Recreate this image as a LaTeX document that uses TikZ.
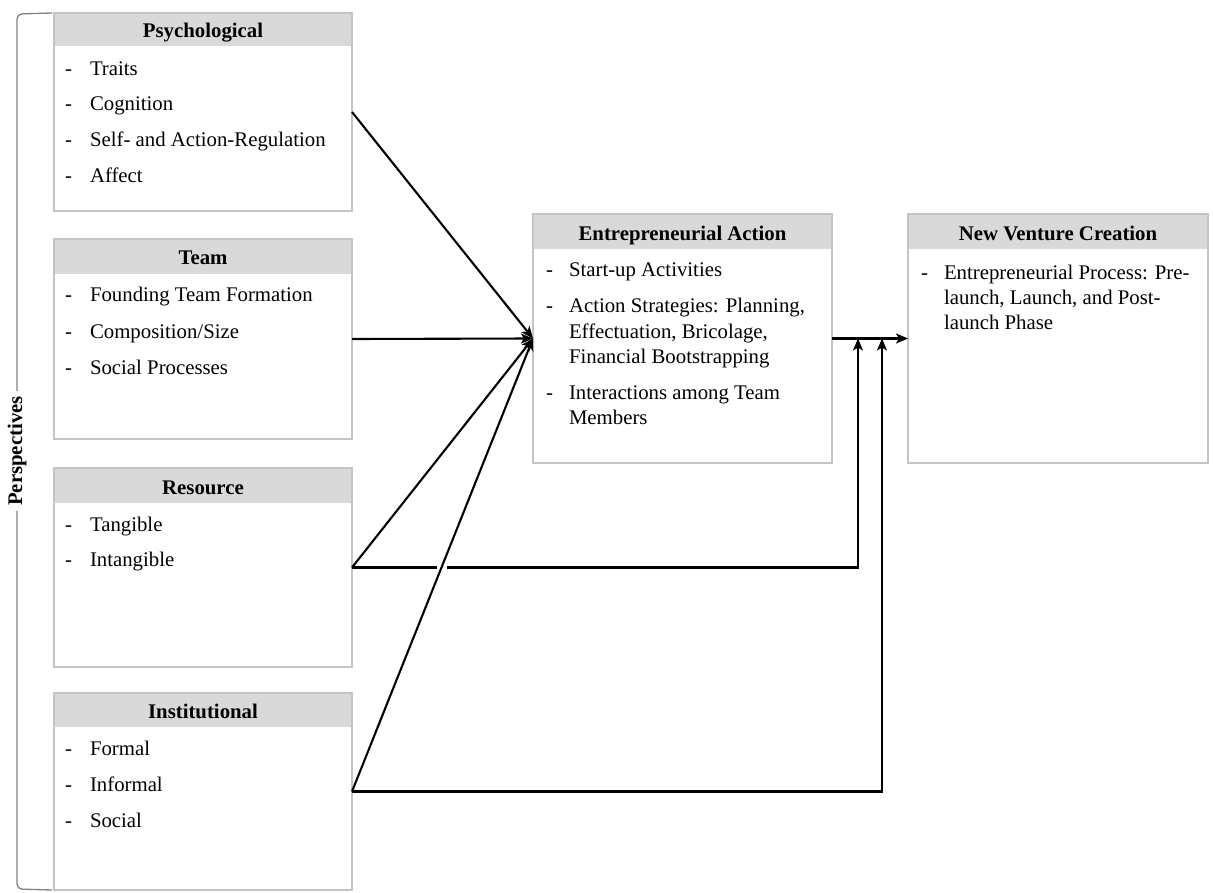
\documentclass[tikz,border=0pt]{standalone}
\usepackage{fontspec}
\setmainfont{Liberation Serif}
\usetikzlibrary{arrows.meta,intersections,calc}
\definecolor{boxline}{HTML}{C4C4C4}
\definecolor{headfill}{HTML}{D9D9D9}
\definecolor{brk}{HTML}{808080}
\newcommand\txtsize{\fontsize{20.8}{25}\selectfont}
\begin{document}
\begin{tikzpicture}[x=1pt,y=-1pt,
  every node/.style={font=\txtsize, inner sep=0pt, outer sep=0pt},
  box/.style={draw=boxline, line width=1.3pt, fill=white, anchor=north west, minimum width=#1},
  boxh/.style={minimum height=#1},
  head/.style={fill=headfill, anchor=north west, minimum width=#1},
  headh/.style={minimum height=#1},
  title/.style={anchor=base, font=\txtsize\bfseries},
  lbl/.style={anchor=base west},
  conn/.style={line width=2.1pt, -{Stealth[length=12pt,width=10pt,inset=3pt]}},
  frame/.style={draw=boxline, line width=1.3pt},
  brace/.style={draw=brk, line width=1.3pt, rounded corners=5pt}
]
\useasboundingbox (0,0) rectangle (1213,893);

% ---------- boxes ----------
\node[box=298pt, boxh=198pt] (psy) at (54,13) {};
\node[head=298pt, headh=33pt] (psyh) at (54,13) {};
\draw[frame] (psy.north west) rectangle (psy.south east);
\node[title] (psyt) at (203,38) {Psychological};

\node[box=298pt, boxh=200pt] (team) at (54,239) {};
\node[head=298pt, headh=35pt] (teamh) at (54,239) {};
\draw[frame] (team.north west) rectangle (team.south east);
\node[title] (teamt) at (203,265) {Team};

\node[box=298pt, boxh=199pt] (res) at (54,468) {};
\node[head=298pt, headh=35pt] (resh) at (54,468) {};
\draw[frame] (res.north west) rectangle (res.south east);
\node[title] (rest) at (203,494) {Resource};

\node[box=298pt, boxh=197pt] (inst) at (54,693) {};
\node[head=298pt, headh=34pt] (insth) at (54,693) {};
\draw[frame] (inst.north west) rectangle (inst.south east);
\node[title] (instt) at (203,718) {Institutional};

\node[box=299pt, boxh=249pt] (ea) at (533,214) {};
\node[head=299pt, headh=35pt] (eah) at (533,214) {};
\draw[frame] (ea.north west) rectangle (ea.south east);
\node[title] (eat) at (682.5,241) {Entrepreneurial Action};

\node[box=300pt, boxh=249pt] (nvc) at (908,214) {};
\node[head=300pt, headh=35pt] (nvch) at (908,214) {};
\draw[frame] (nvc.north west) rectangle (nvc.south east);
\node[title] (nvct) at (1058,241) {New Venture Creation};

% ---------- items ----------
\node[lbl] (p1d) at (65,76) {-};  \node[lbl] (p1) at (90,76) {Traits};
\node[lbl] (p2d) at (65,111) {-}; \node[lbl] (p2) at (90,111) {Cognition};
\node[lbl] (p3d) at (65,147) {-}; \node[lbl] (p3) at (90,147) {Self- and Action-Regulation};
\node[lbl] (p4d) at (65,183) {-}; \node[lbl] (p4) at (90,183) {Affect};

\node[lbl] (t1d) at (65,302) {-}; \node[lbl] (t1) at (90,302) {Founding Team Formation};
\node[lbl] (t2d) at (65,338) {-}; \node[lbl] (t2) at (90,338) {Composition/Size};
\node[lbl] (t3d) at (65,374) {-}; \node[lbl] (t3) at (90,374) {Social Processes};

\node[lbl] (r1d) at (65,531) {-}; \node[lbl] (r1) at (90,531) {Tangible};
\node[lbl] (r2d) at (65,566) {-}; \node[lbl] (r2) at (90,566) {Intangible};

\node[lbl] (i1d) at (65,755) {-}; \node[lbl] (i1) at (90,755) {Formal};
\node[lbl] (i2d) at (65,791) {-}; \node[lbl] (i2) at (90,791) {Informal};
\node[lbl] (i3d) at (65,827) {-}; \node[lbl] (i3) at (90,827) {Social};

\node[lbl] (e1d) at (546,277) {-}; \node[lbl] (e1) at (569,277) {Start-up Activities};
\node[lbl] (e2d) at (546,313) {-}; \node[lbl] (e2) at (569,313) {\makebox[236pt][s]{Action Strategies: Planning,}};
\node[lbl] (e2b) at (569,338) {Effectuation, Bricolage,};
\node[lbl] (e2c) at (569,363) {Financial Bootstrapping};
\node[lbl] (e3d) at (546,399) {-}; \node[lbl] (e3) at (569,399) {Interactions among Team};
\node[lbl] (e3b) at (569,424) {Members};

\node[lbl] (n1d) at (921,280) {-}; \node[lbl] (n1) at (944,280) {Entrepreneurial Process: Pre-};
\node[lbl] (n1b) at (944,305) {launch, Launch, and Post-};
\node[lbl] (n1c) at (944,330) {launch Phase};

% ---------- bracket ----------
\draw[brace] (52,13) -- (17,14) -- (17,391);
\draw[brace] (17,511) -- (17,889) -- (52,890);
\node[rotate=90, font=\txtsize\bfseries] (persp) at (17,451) {Perspectives};

% ---------- connectors ----------
\coordinate (j1) at (858,338.5);
\coordinate (j2) at (882,338.5);
\draw[conn] (psy.east) -- (ea.west);
\draw[conn] (team.east) -- (ea.west);
\draw[conn] (res.east) -- (ea.west);
\draw[conn, name path=rh] (res.east) -| (j1);
\draw[conn] (inst.east) -| (j2);
\path[name path=idiag] (inst.east) -- (ea.west);
\path[name intersections={of=rh and idiag, by=X}];
\fill[white] ($(X)+(-5,-2.9)$) rectangle ($(X)+(5,2.9)$);
\draw[conn] (inst.east) -- (ea.west);
\draw[conn] (ea.east) -- (nvc.west);
\end{tikzpicture}
\end{document}
